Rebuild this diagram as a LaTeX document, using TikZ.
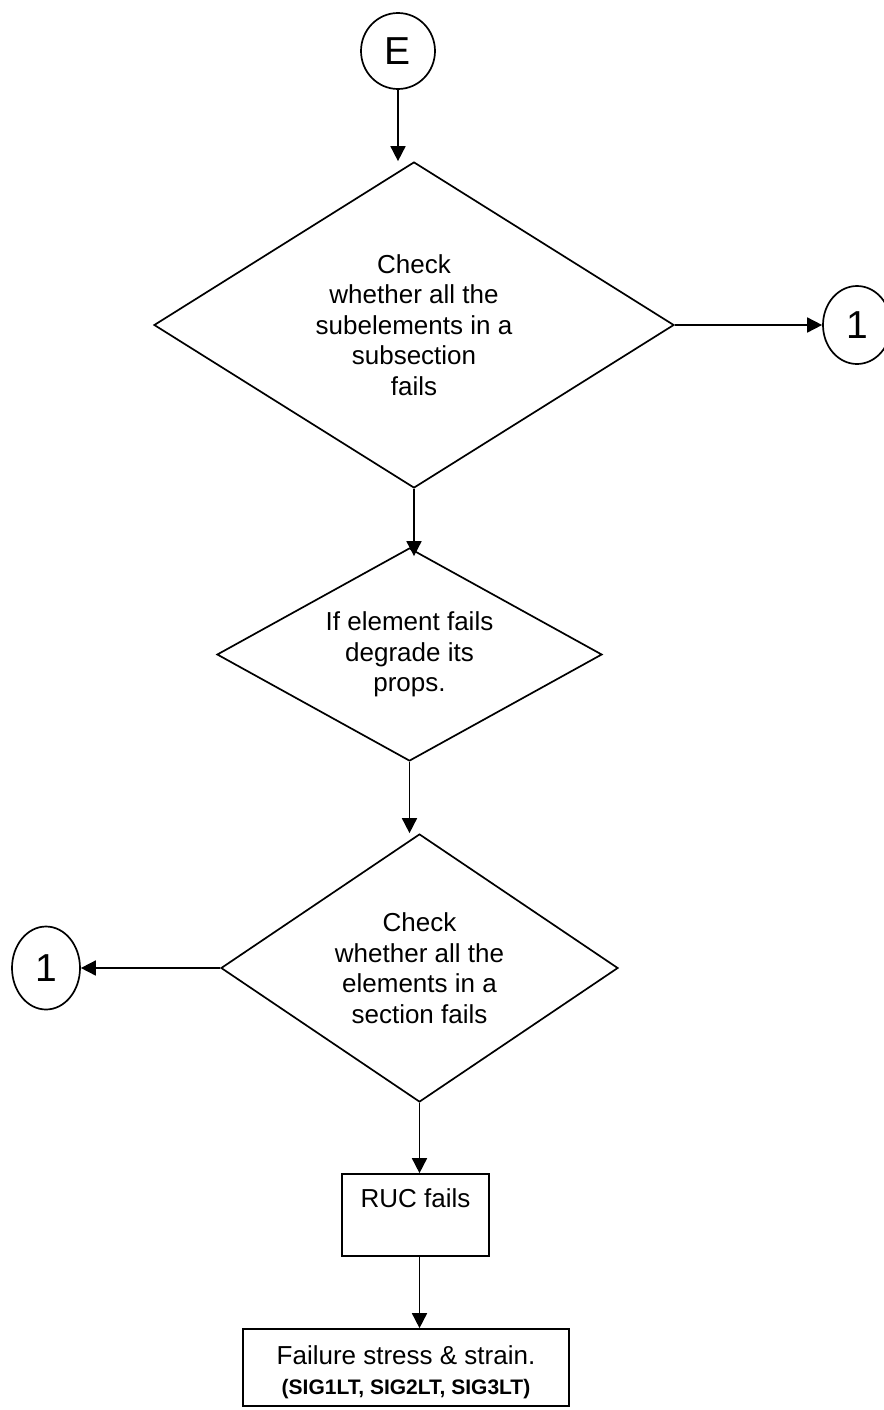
\documentclass[tikz,border=0pt]{standalone}
\usepackage{fontspec}
\setmainfont{Liberation Sans}
\usetikzlibrary{shapes.geometric,arrows.meta,calc}
\begin{document}
\begin{tikzpicture}[x=1pt,y=-1pt,
  arr/.style={line width=1.7pt,-{Triangle[length=15pt,width=15pt]}},
  decision/.style={draw,line width=1.7pt,diamond,inner sep=0pt,align=center,
    font=\fontsize{26}{30.5}\selectfont},
  conn/.style={draw,line width=1.7pt,ellipse,inner sep=0pt,
    font=\fontsize{39}{44}\selectfont},
  box/.style={draw,line width=1.7pt,rectangle,inner sep=0pt},
  txt/.style={font=\fontsize{26}{30.5}\selectfont,inner sep=0pt,anchor=base},
]
\useasboundingbox (0,0) rectangle (883,1410);

% entry connector and decisions
\node[conn, minimum width=74pt, minimum height=76pt] (E) at (398,51) {E};
\node[decision, aspect=1.6, minimum width=520pt, minimum height=326pt] (d1) at (414,325)
  {Check\\whether all the\\subelements in a\\subsection\\fails};
\node[conn, minimum width=68pt, minimum height=78pt] (r1) at (857,325) {1};
\node[decision, aspect=1.8, minimum width=385pt, minimum height=213pt] (d2) at (409.5,654.5)
  {If element fails\\degrade its\\props.};
\node[decision, aspect=1.48, minimum width=397pt, minimum height=268pt] (d3) at (419.5,968)
  {Check\\whether all the\\elements in a\\section fails};
\node[conn, minimum width=68pt, minimum height=83pt] (l1) at (46,968) {1};

% result boxes
\node[box, minimum width=147pt, minimum height=82pt] (ruc) at (415.5,1215) {};
\node[txt] (ructxt) at (415.5,1207) {RUC fails};
\node[box, minimum width=326pt, minimum height=77pt] (fin) at (406,1367.5) {};
\node[txt] (fin1) at (406,1364) {Failure stress \& strain.};
\node[txt, font=\bfseries\fontsize{21}{25}\selectfont] (fin2) at (406,1394) {(SIG1LT, SIG2LT, SIG3LT)};

% connectors
\draw[arr] (E.south) -- (E.south |- d1.north);
\draw[arr] (d1.east) -- (r1.west);
\draw[arr, shorten >=-9pt] (d1.south) -- (d1.south |- d2.north);
\draw[arr] (d2.south) -- (d2.south |- d3.north);
\draw[arr] (d3.west) -- (l1.east);
\draw[arr] (d3.south) -- (d3.south |- ruc.north);
\draw[arr] (ruc.south -| d3.south) -- (d3.south |- fin.north);
\end{tikzpicture}
\end{document}
